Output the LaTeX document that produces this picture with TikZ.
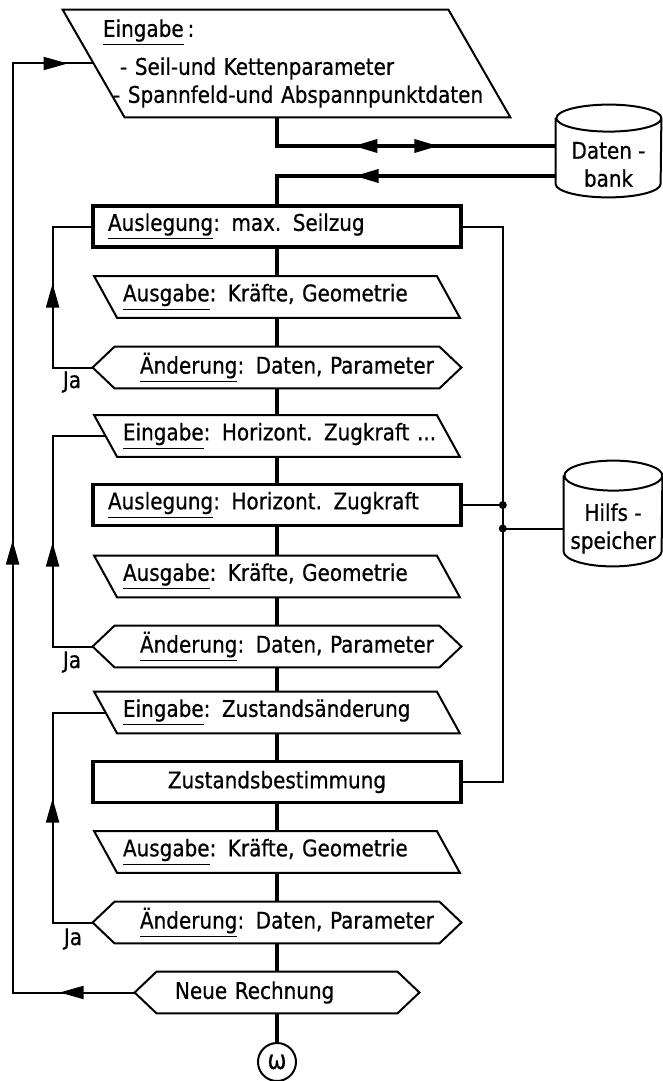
\documentclass[tikz,border=0pt]{standalone}
\usepackage{fontspec}
\setmainfont[FakeStretch=0.965, FakeBold=0.6]{DejaVu Sans Condensed}
\usetikzlibrary{arrows.meta,decorations.markings}

\tikzset{
  stem/.style={line width=1.8pt},
  slim/.style={line width=1pt},
  procbox/.style={draw, line width=1.8pt, minimum height=20.5pt, text width=169pt, inner xsep=7.5pt, inner ysep=2pt, align=left},
  iobox/.style={minimum height=20.5pt, text width=154pt, inner xsep=8.5pt, inner ysep=2pt, align=left},
  askbox/.style={minimum height=20.5pt, text width=137pt, inner xsep=12.5pt, inner ysep=2pt, align=left},
  store/.style={inner sep=0pt, align=center},
  dot/.style={circle, fill, inner sep=0pt, minimum size=4pt},
  flowtip/.tip={Triangle[length=12pt, width=6.5pt]},
  arrowpos/.style={postaction={decorate, decoration={markings, mark=at position #1 with {\arrow{flowtip}}}}},
  arrowback/.style={postaction={decorate, decoration={markings, mark=at position #1 with {\arrowreversed{flowtip}}}}}
}

\begin{document}
\begin{tikzpicture}[x=0.5pt, y=-0.5pt, font=\fontsize{11.5pt}{14pt}\selectfont]
	\useasboundingbox (0,0) rectangle (663,1081);
	% input block and data stores
	\node[minimum height=53.5pt, text width=183.5pt, inner xsep=4.5pt, align=left] (inA) at (286.5,63.5)
		{\mbox{\underline{Eingabe}\,:}\\[5pt]
		 \mbox{\hspace*{8.5pt}- Seil-und Kettenparameter}\\
		 \mbox{\hspace*{5pt}- Spannfeld-und Abspannpunktdaten}};
	\node[store, minimum width=52.5pt, minimum height=32.5pt] (db) at (608.5,164.5) {Daten -\\bank};
	\node[store, minimum width=49pt, minimum height=37.5pt] (hs) at (613,528.5) {Hilfs -\\speicher};
	% main column
	\node[procbox] (ausl1) at (277,226.5) {\mbox{\underline{Auslegung}: max. Seilzug}};
	\node[iobox] (aus1) at (277,297) {\mbox{\underline{Ausgabe}: Kräfte, Geometrie}};
	\node[askbox] (aen1) at (277,367.5) {\mbox{\underline{Änderung}: Daten, Parameter}};
	\node[iobox] (ein2) at (277,436) {\mbox{\underline{Eingabe}: Horizont. Zugkraft ...}};
	\node[procbox] (ausl2) at (277,505) {\mbox{\underline{Auslegung}: Horizont. Zugkraft}};
	\node[iobox] (aus2) at (277,576.5) {\mbox{\underline{Ausgabe}: Kräfte, Geometrie}};
	\node[askbox] (aen2) at (277,646.5) {\mbox{\underline{Änderung}: Daten, Parameter}};
	\node[iobox] (ein3) at (277,712.5) {\mbox{\underline{Eingabe}: Zustandsänderung}};
	\node[procbox, align=center] (zust) at (277,782) {Zustandsbestimmung};
	\node[iobox] (aus3) at (277,852) {\mbox{\underline{Ausgabe}: Kräfte, Geometrie}};
	\node[askbox] (aen3) at (277,922.5) {\mbox{\underline{Änderung}: Daten, Parameter}};
	\node[askbox, text width=102pt, inner xsep=9pt] (neu) at (277,992.5) {Neue Rechnung};
	\node[draw, slim, circle, minimum size=19pt, inner sep=0pt, font=\fontsize{13pt}{14pt}\selectfont] (omega) at (277,1062) {ω};
	\node (ja1) at (72,382) {Ja};
	\node (ja2) at (72,662) {Ja};
	\node (ja3) at (73,939) {Ja};
	% outlines
	\draw[slim] ([xshift=-15.5pt]inA.north west) -- ([xshift=-15.5pt]inA.north east) -- ([xshift=15.5pt]inA.south east) -- ([xshift=15.5pt]inA.south west) -- cycle;
	\foreach \n in {aus1,ein2,aus2,ein3,aus3}
		\draw[slim] ([xshift=-5.75pt]\n.north west) -- ([xshift=-5.75pt]\n.north east) -- ([xshift=5.75pt]\n.south east) -- ([xshift=5.75pt]\n.south west) -- cycle;
	\foreach \n in {aen1,aen2,aen3,neu}
		\draw[slim] (\n.north west) -- (\n.north east) -- ([xshift=11pt]\n.east) -- (\n.south east) -- (\n.south west) -- ([xshift=-11pt]\n.west) -- cycle;
	\foreach \n/\r/\h in {db/26.25pt/6.75pt, hs/24.5pt/7.5pt}
		\draw[slim] ([yshift=\h]\n.north west) -- ([yshift=\h]\n.south west) arc[start angle=180, end angle=360, x radius=\r, y radius=\h]
			-- ([yshift=\h]\n.north east) arc[start angle=0, end angle=360, x radius=\r, y radius=\h];
	% flow
	\draw[stem, arrowback=52.5pt, arrowpos=95pt] (inA.south -| ausl1.north) |- ([yshift=9.25pt]db.west);
	\draw[stem, arrowpos=100.5pt] ([yshift=-5.75pt]db.west) -| (ausl1.north);
	\foreach \a/\b in {ausl1/aus1,aus1/aen1,aen1/ein2,ein2/ausl2,ausl2/aus2,aus2/aen2,aen2/ein3,ein3/zust,zust/aus3,aus3/aen3,aen3/neu,neu/omega}
		\draw[stem] (\a.south) -- (\b.north);
	% loops
	\draw[slim, arrowpos=62pt] ([xshift=-11pt]aen1.west) -- ++(-20pt,0) |- (ausl1.west);
	\draw[slim, arrowpos=72pt] ([xshift=-11pt]aen2.west) -- ++(-20pt,0) |- (ein2.west);
	\draw[slim, arrowpos=82pt] ([xshift=-11pt]aen3.west) -- ++(-20pt,0) |- (ein3.west);
	\draw[slim, arrowpos=37.5pt, arrowpos=287pt, arrowpos=553pt] ([xshift=-11pt]neu.west) -- ++(-61pt,0) |- (inA.west);
	% auxiliary store
	\draw[slim] (ausl1.east) -- ++(20pt,0) |- (zust.east);
	\draw[slim] (ausl2.east) -- ++(20pt,0) node[dot] (j1) {};
	\draw[slim] (hs.west) -- (hs.west -| j1) node[dot] (j2) {};
\end{tikzpicture}
\end{document}
